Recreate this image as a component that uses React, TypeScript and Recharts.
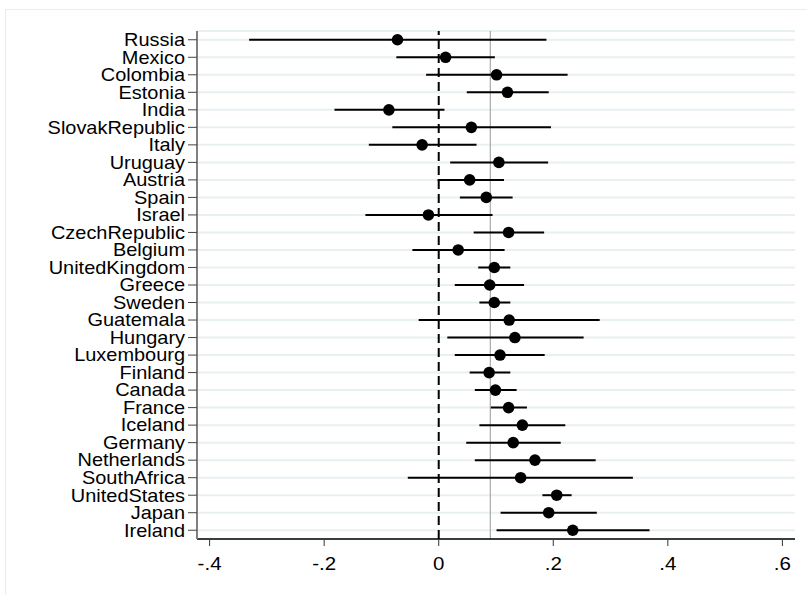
import {
  ScatterChart,
  Scatter,
  XAxis,
  YAxis,
  CartesianGrid,
  ErrorBar,
  ReferenceLine,
} from 'recharts';

const countries = [
  'Russia', 'Mexico', 'Colombia', 'Estonia', 'India', 'SlovakRepublic', 'Italy',
  'Uruguay', 'Austria', 'Spain', 'Israel', 'CzechRepublic', 'Belgium', 'UnitedKingdom',
  'Greece', 'Sweden', 'Guatemala', 'Hungary', 'Luxembourg', 'Finland', 'Canada',
  'France', 'Iceland', 'Germany', 'Netherlands', 'SouthAfrica', 'UnitedStates',
  'Japan', 'Ireland',
];

const estimates = [
  -0.072, 0.012, 0.101, 0.12, -0.087, 0.057, -0.029, 0.105, 0.054, 0.083, -0.018,
  0.122, 0.034, 0.097, 0.089, 0.097, 0.123, 0.133, 0.107, 0.088, 0.099, 0.122,
  0.146, 0.13, 0.168, 0.143, 0.206, 0.192, 0.234,
];

const lower = [
  -0.331, -0.074, -0.022, 0.049, -0.182, -0.081, -0.122, 0.02, -0.002, 0.037, -0.128,
  0.061, -0.046, 0.069, 0.028, 0.071, -0.035, 0.015, 0.028, 0.054, 0.063, 0.091,
  0.071, 0.048, 0.063, -0.054, 0.181, 0.108, 0.101,
];

const upper = [
  0.188, 0.098, 0.225, 0.192, 0.01, 0.196, 0.066, 0.191, 0.114, 0.129, 0.094,
  0.184, 0.115, 0.125, 0.149, 0.125, 0.281, 0.253, 0.185, 0.125, 0.136, 0.154,
  0.221, 0.213, 0.274, 0.339, 0.232, 0.276, 0.368,
];

const xTicks = [-0.4, -0.2, 0, 0.2, 0.4, 0.6];
const referenceValue = 0.09;

const data = countries.map((name, i) => ({
  name,
  row: i + 1,
  est: estimates[i],
  err: [estimates[i] - lower[i], upper[i] - estimates[i]],
}));

const rowTicks = countries.map((_, i) => i + 1);

const fmtX = (v: number) => {
  if (v === 0) return '0';
  const s = String(Math.round(v * 10) / 10);
  return s.replace('0.', '.');
};

const font = '"Liberation Sans", Arial, sans-serif';
const stretch = 1.14;

const Dot = (props: any) => <circle cx={props.cx} cy={props.cy} r={5.8} fill="#000" />;

// stata draws its labels a little wider than Arial, so stretch them horizontally
const YTick = ({ x, y, payload }: any) => (
  <g transform={`translate(${x},${y})`}>
    <text
      transform={`scale(${stretch},1)`}
      textAnchor="end"
      dy="0.36em"
      fontSize={17.5}
      fontFamily={font}
      fill="#000"
    >
      {countries[payload.value - 1]}
    </text>
  </g>
);

const XTick = ({ x, y, payload }: any) => (
  <g transform={`translate(${x},${y})`}>
    <text
      transform={`scale(${stretch},1)`}
      textAnchor="middle"
      dy="0.71em"
      fontSize={18}
      fontFamily={font}
      fill="#000"
    >
      {fmtX(payload.value)}
    </text>
  </g>
);

export default function App() {
  return (
    <div style={{ position: 'absolute', left: 0, top: 0, width: 807, height: 595, background: '#fff', overflow: 'hidden', fontFamily: font }}>
      <div
        style={{
          position: 'absolute',
          left: 5,
          top: 9,
          width: 900,
          height: 700,
          borderLeft: '1px solid #e6eeee',
          borderTop: '1px solid #e6eeee',
        }}
      />
      <ScatterChart
        width={807}
        height={595}
        margin={{ top: 31, right: 12, left: 0, bottom: 16 }}
        style={{ position: 'absolute', left: 0, top: 0 }}
      >
        <CartesianGrid horizontal vertical={false} stroke="#e9f0f2" strokeWidth={2} />
        <XAxis
          type="number"
          dataKey="est"
          domain={[-0.422, 0.622]}
          ticks={xTicks}
          allowDataOverflow
          height={40}
          tickSize={7}
          tickMargin={11}
          axisLine={{ stroke: '#000', strokeWidth: 1.5 }}
          tickLine={{ stroke: '#333', strokeWidth: 1 }}
          tick={<XTick />}
        />
        <YAxis
          type="number"
          dataKey="row"
          domain={[0.5, 29.5]}
          ticks={rowTicks}
          interval={0}
          reversed
          width={197}
          tickSize={9}
          tickMargin={3}
          axisLine={{ stroke: '#808080', strokeWidth: 2 }}
          tickLine={{ stroke: '#444', strokeWidth: 1 }}
          tick={<YTick />}
        />
        <ReferenceLine x={referenceValue} stroke="#999" strokeWidth={1} />
        <ReferenceLine x={0} stroke="#000" strokeWidth={2} strokeDasharray="9 5" />
        <Scatter data={data} shape={Dot} isAnimationActive={false}>
          <ErrorBar dataKey="err" direction="x" width={0} stroke="#000" strokeWidth={2} />
        </Scatter>
      </ScatterChart>
    </div>
  );
}
